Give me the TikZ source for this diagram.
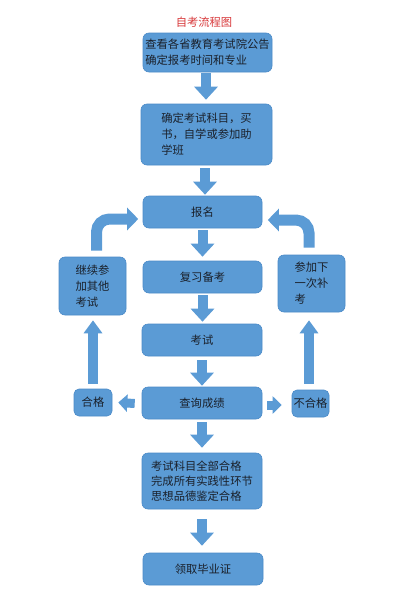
\documentclass[tikz,border=0pt]{standalone}
\usepackage{fontspec}
\newfontfamily\cjk{Noto Sans CJK SC}
\usetikzlibrary{arrows.meta}
\definecolor{boxblue}{HTML}{5B9BD5}
\definecolor{boxline}{HTML}{4A8AC8}
\definecolor{txt}{HTML}{1A202A}
\definecolor{titlered}{HTML}{D8393B}
\tikzset{
  box/.style={draw=boxline, line width=0.6pt, fill=boxblue, rounded corners=6pt,
    text=txt, font=\cjk\fontsize{11.3}{16}\selectfont, align=left, inner sep=1pt},
  blk/.style={draw=boxblue, line width=10pt, -{Triangle[width=23pt,length=13pt]}},
  upblk/.style={draw=boxblue, line width=10pt, -{Triangle[width=18pt,length=13pt]}},
  sideblk/.style={draw=boxblue, line width=9pt, -{Triangle[width=17pt,length=9pt]}},
  bentblk/.style={draw=boxblue, line width=11pt, rounded corners=13pt, -{Triangle[width=22pt,length=11pt]}},
}
\begin{document}
\begin{tikzpicture}[x=1pt,y=-1pt]
\useasboundingbox[fill=white] (0,0) rectangle (400,600);
\node[text=titlered, font=\cjk\fontsize{11.3}{14}\selectfont] (title) at (204,22) {自考流程图};
\node[box, minimum width=129pt, minimum height=39pt] (b1) at (207.5,52.5) {查看各省教育考试院公告\\确定报考时间和专业};
\node[box, minimum width=131pt, minimum height=61pt] (b2) at (206.5,134.5) {确定考试科目，买\\书，自学或参加助\\学班};
\node[box, minimum width=119pt, minimum height=32pt] (bm) at (202.5,212) {报名};
\node[box, minimum width=119pt, minimum height=32pt] (fx) at (202.5,277) {复习备考};
\node[box, minimum width=120pt, minimum height=32pt] (ks) at (202,340) {考试};
\node[box, minimum width=120pt, minimum height=32pt] (cx) at (202,403) {查询成绩};
\node[box, minimum width=38pt, minimum height=27pt, rounded corners=5pt] (hg) at (93,402.5) {合格};
\node[box, minimum width=37pt, minimum height=27pt, rounded corners=5pt, inner sep=0pt] (bhg) at (310.5,403.5) {不合格};
\node[box, minimum width=67pt, minimum height=58pt] (jx) at (92.5,286) {继续参\\加其他\\考试};
\node[box, minimum width=67pt, minimum height=57pt] (cj) at (311.5,283.5) {参加下\\一次补\\考};
\node[box, minimum width=120pt, minimum height=56pt, font=\cjk\fontsize{11.3}{15}\selectfont] (qb) at (202,481) {考试科目全部合格\\完成所有实践性环节\\思想品德鉴定合格};
\node[box, minimum width=120pt, minimum height=32pt] (ly) at (203,569) {领取毕业证};

\draw[blk] ([xshift=-1.5pt,yshift=-1pt]b1.south) -- ([xshift=-0.5pt,yshift=4pt]b2.north);
\draw[blk] ([xshift=-1.5pt,yshift=-3pt]b2.south) -- ([xshift=2.5pt,yshift=1pt]bm.north);
\draw[blk] ([yshift=-2pt]bm.south) -- ([yshift=4pt]fx.north);
\draw[blk] ([yshift=-2pt]fx.south) -- ([xshift=0.5pt,yshift=2pt]ks.north);
\draw[blk] ([yshift=-4pt]ks.south) -- ([yshift=1pt]cx.north);
\draw[blk] ([yshift=-3pt]cx.south) -- ([yshift=5pt]qb.north);
\draw[blk] ([yshift=-10pt]qb.south) -- ([xshift=-1pt,yshift=7pt]ly.north);

\draw[sideblk] ([xshift=-7pt,yshift=-0.5pt]cx.west) -- ([xshift=6pt]hg.east);
\draw[sideblk] ([xshift=5pt,yshift=-2pt]cx.east) -- ([xshift=-10pt,yshift=-1.5pt]bhg.west);

\draw[upblk] ([yshift=5pt]hg.north) -- ([xshift=0.5pt,yshift=-5pt]jx.south);
\draw[upblk] ([xshift=-1.5pt,yshift=6pt]bhg.north) -- ([xshift=-2.5pt,yshift=-8pt]cj.south);

\draw[bentblk] ([xshift=4pt,yshift=6pt]jx.north) |- ([xshift=-4.5pt,yshift=-7pt]bm.west);
\draw[bentblk] ([xshift=-2.5pt,yshift=7pt]cj.north) |- ([xshift=5.5pt,yshift=-8pt]bm.east);
\end{tikzpicture}
\end{document}
